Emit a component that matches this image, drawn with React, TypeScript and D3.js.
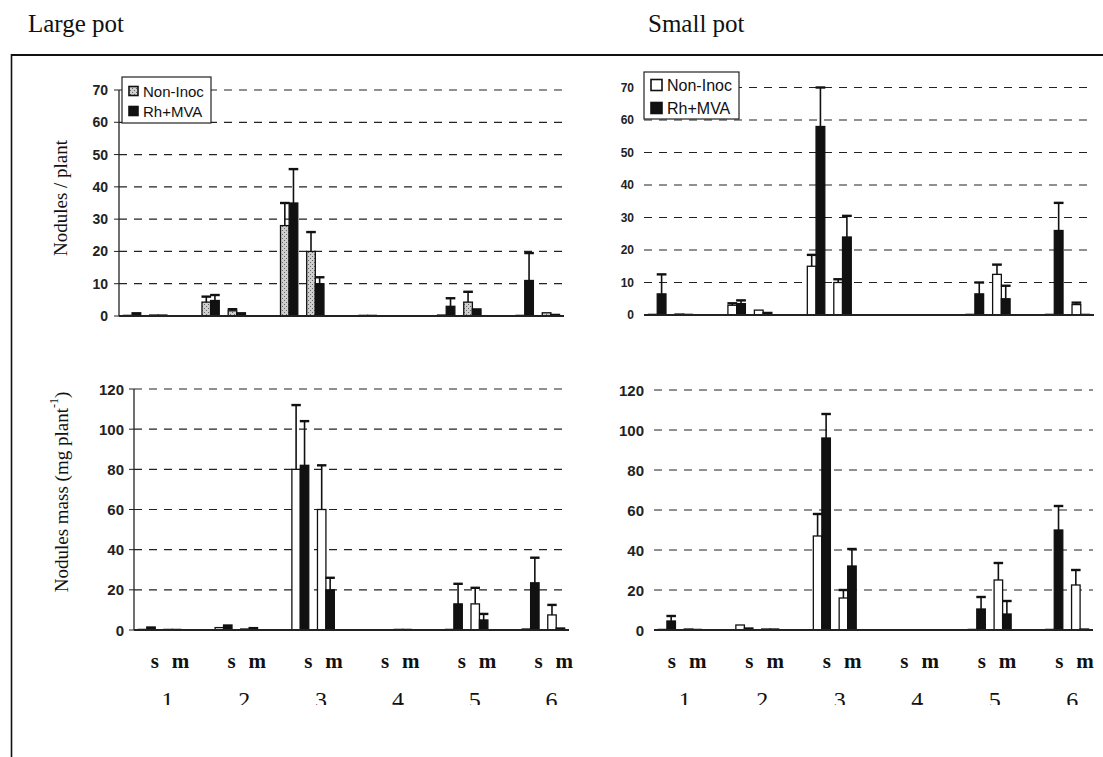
import React from 'react';
import * as d3 from 'd3';

const groups = ['1', '2', '3', '4', '5', '6'];
const subs = ['s', 'm'];
const seriesNames = ['Non-Inoc', 'Rh+MVA'];

// order of values: 1s, 1m, 2s, 2m, 3s, 3m, 4s, 4m, 5s, 5m, 6s, 6m
const largeNodNon = [0.2, 0.3, 4.3, 1.6, 28, 20, 0.2, 0, 0.3, 4.3, 0.2, 1.0];
const largeNodNonErr = [null, null, 1.7, 0.5, 7, 6, null, null, null, 3.2, null, null];
const largeNodRh = [1.0, 0.3, 4.8, 1.0, 35, 10, 0.2, 0, 3, 2.2, 11, 0.5];
const largeNodRhErr = [null, null, 1.7, null, 10.5, 2, null, null, 2.5, null, 8.5, null];

const smallNodNon = [0.2, 0.3, 3, 1.5, 15, 10, 0, 0, 0.2, 12.5, 0.2, 3.2];
const smallNodNonErr = [null, null, 0.6, null, 3.5, 1, null, null, null, 3, null, 0.6];
const smallNodRh = [6.5, 0.2, 3.5, 0.8, 58, 24, 0, 0, 6.5, 5, 26, 0.2];
const smallNodRhErr = [6, null, 1, null, 12, 6.5, null, null, 3.5, 4, 8.5, null];

const largeMassNon = [0.3, 0.3, 1.2, 0.5, 80, 60, 0, 0.3, 0.3, 13, 0.5, 7.5];
const largeMassNonErr = [null, null, null, null, 32, 22, null, null, null, 8, null, 5];
const largeMassRh = [1.5, 0.3, 2.5, 1.2, 82, 20, 0, 0.3, 13, 5, 23.5, 1];
const largeMassRhErr = [null, null, null, null, 22, 6, null, null, 10, 3, 12.5, null];

const smallMassNon = [0.3, 0.5, 2.5, 0.5, 47, 16, 0, 0, 0.3, 25, 0.3, 22.5];
const smallMassNonErr = [null, null, null, null, 11, 4, null, null, null, 8.5, null, 7.5];
const smallMassRh = [4.5, 0.3, 1, 0.5, 96, 32, 0, 0, 10.5, 8, 50, 0.5];
const smallMassRhErr = [2.5, null, null, null, 12, 8.5, null, null, 6, 6.5, 12, null];

const countTicks = [0, 10, 20, 30, 40, 50, 60, 70];
const massTicks = [0, 20, 40, 60, 80, 100, 120];

const titles = ['Large pot', 'Small pot'];
const yTitleTop = 'Nodules / plant';
const yTitleBottom = 'Nodules mass (mg plant';

const SERIF = '"Liberation Serif", "Times New Roman", serif';
const SANS = '"Liberation Sans", Arial, sans-serif';

// 17 slots: s, m, gap for each group, no gap after the last one
const slotKeys = groups.flatMap((g, i) =>
  i < groups.length - 1 ? [g + 's', g + 'm', g + '-'] : [g + 's', g + 'm']
);

type Err = (number | null)[];

interface PanelProps {
  x0: number; x1: number; y0: number; yTop: number; max: number;
  ticks: number[];
  non: number[]; nonErr: Err; rh: number[]; rhErr: Err;
  nonFill: string;
  tickFont: number; labelRight: number; axisLine: boolean;
  legend?: { x: number; y: number; w: number; h: number; font: number; sq: number; rows: number[] };
  xLabelOffset?: number;
}

function Panel(p: PanelProps) {
  const x = d3.scaleBand().domain(slotKeys).range([p.x0, p.x1]);
  const y = d3.scaleLinear().domain([0, p.max]).range([p.y0, p.yTop]);
  const step = x.bandwidth();
  const pairW = step * 0.66;

  const bars: JSX.Element[] = [];
  const errs: JSX.Element[] = [];
  p.non.forEach((_, i) => {
    const key = groups[Math.floor(i / 2)] + subs[i % 2];
    const cx = (x(key) as number) + step / 2;
    const inner = d3.scaleBand().domain(seriesNames).range([cx - pairW / 2, cx + pairW / 2]);
    const w = inner.bandwidth();
    [
      { v: p.non[i], e: p.nonErr[i], s: seriesNames[0], fill: p.nonFill },
      { v: p.rh[i], e: p.rhErr[i], s: seriesNames[1], fill: '#111' },
    ].forEach((b) => {
      if (b.v <= 0) return;
      const bx = inner(b.s) as number;
      bars.push(
        <rect key={`b${i}${b.s}`} x={bx} y={y(b.v)} width={w} height={p.y0 - y(b.v)}
          fill={b.fill} stroke="#111" strokeWidth={1.3} />
      );
      if (b.e != null) {
        const mx = bx + w / 2;
        errs.push(
          <g key={`e${i}${b.s}`} stroke="#111">
            <line x1={mx} x2={mx} y1={y(b.v)} y2={y(b.v + b.e)} strokeWidth={1.6} />
            <line x1={bx - 0.5} x2={bx + w + 0.5} y1={y(b.v + b.e)} y2={y(b.v + b.e)} strokeWidth={2.4} />
          </g>
        );
      }
    });
  });

  return (
    <g>
      {p.ticks.filter((t) => t > 0).map((t) => (
        <line key={'g' + t} x1={p.x0} x2={p.x1} y1={y(t)} y2={y(t)}
          stroke="#222" strokeWidth={1.2} strokeDasharray="8 7" />
      ))}
      {p.ticks.map((t) => (
        <text key={'t' + t} x={p.labelRight} y={y(t)} textAnchor="end" dominantBaseline="central"
          fontFamily={SANS} fontWeight="bold" fontSize={p.tickFont} fill="#222">{t}</text>
      ))}
      {p.axisLine && (
        <g stroke="#222">
          <line x1={p.x0} x2={p.x0} y1={p.y0} y2={p.yTop} strokeWidth={1.3} />
          {p.ticks.map((t) => (
            <line key={'k' + t} x1={p.x0 - 5} x2={p.x0} y1={y(t)} y2={y(t)} strokeWidth={1} />
          ))}
        </g>
      )}
      {bars}
      <line x1={p.x0} x2={p.x1} y1={p.y0} y2={p.y0} stroke="#222" strokeWidth={1.8} />
      {errs}
      {p.legend && (
        <g>
          <rect x={p.legend.x} y={p.legend.y} width={p.legend.w} height={p.legend.h}
            fill="#fff" stroke="#222" strokeWidth={1.2} />
          {seriesNames.map((s, i) => (
            <g key={s}>
              <rect x={p.legend.x + 7} y={p.legend.rows[i] - p.legend.sq / 2} width={p.legend.sq} height={p.legend.sq}
                fill={i === 0 ? p.nonFill : '#111'} stroke="#111" strokeWidth={1.6} />
              <text x={p.legend.x + 12 + p.legend.sq} y={p.legend.rows[i]} dominantBaseline="central"
                fontFamily={SANS} fontSize={p.legend.font} fill="#111">{s}</text>
            </g>
          ))}
        </g>
      )}
      {p.xLabelOffset != null && (
        <g>
          {groups.map((g) => subs.map((s) => (
            <text key={g + s} x={(x(g + s) as number) + step / 2 + (p.xLabelOffset as number)} y={668}
              textAnchor="middle" fontFamily={SERIF} fontWeight="bold" fontSize={21} fill="#111">{s}</text>
          )))}
          <g clipPath="url(#numClip)">
            {groups.map((g) => (
              <text key={'n' + g} x={(x(g + 's') as number) + step + (p.xLabelOffset as number)} y={708}
                textAnchor="middle" fontFamily={SERIF} fontSize={24} fill="#111">{g}</text>
            ))}
          </g>
        </g>
      )}
    </g>
  );
}

export default function App() {
  return (
    <div style={{ position: 'absolute', left: 0, top: 0 }}>
      <svg width={1103} height={757} viewBox="0 0 1103 757" style={{ display: 'block', background: '#fff' }}>
        <defs>
          <pattern id="stip" width="4" height="4" patternUnits="userSpaceOnUse">
            <rect width="4" height="4" fill="#cfcfcf" />
            <rect x="0" y="0" width="1" height="1" fill="#666" />
            <rect x="2" y="2" width="1" height="1" fill="#666" />
          </pattern>
          <clipPath id="numClip">
            <rect x={0} y={680} width={1103} height={25} />
          </clipPath>
        </defs>

        <text x={28} y={32} fontFamily={SERIF} fontSize={25} fill="#111">{titles[0]}</text>
        <text x={648} y={32} fontFamily={SERIF} fontSize={25} fill="#111">{titles[1]}</text>

        <line x1={11} x2={1103} y1={55} y2={55} stroke="#111" strokeWidth={2} />
        <line x1={11.5} x2={11.5} y1={54} y2={757} stroke="#111" strokeWidth={1.6} />

        <text transform="translate(60,198) rotate(-90)" textAnchor="middle" dominantBaseline="central"
          fontFamily={SERIF} fontSize={19} fill="#111">{yTitleTop}</text>
        <text transform="translate(61,492) rotate(-90)" textAnchor="middle" dominantBaseline="central"
          fontFamily={SERIF} fontSize={19} fill="#111">
          {yTitleBottom}<tspan fontSize={12} dy={-7}>-1</tspan><tspan dy={7}>)</tspan>
        </text>

        <Panel x0={119} x1={564} y0={316} yTop={90} max={70} ticks={countTicks}
          non={largeNodNon} nonErr={largeNodNonErr} rh={largeNodRh} rhErr={largeNodRhErr}
          nonFill="url(#stip)" tickFont={14} labelRight={108} axisLine
          legend={{ x: 122, y: 77, w: 89, h: 46, font: 15, sq: 9, rows: [91, 111] }} />

        <Panel x0={644} x1={1094} y0={315} yTop={87.5} max={70} ticks={countTicks}
          non={smallNodNon} nonErr={smallNodNonErr} rh={smallNodRh} rhErr={smallNodRhErr}
          nonFill="#fff" tickFont={12} labelRight={634} axisLine={false}
          legend={{ x: 644, y: 72, w: 95, h: 47, font: 16, sq: 11, rows: [85, 108] }} />

        <Panel x0={134} x1={569} y0={630} yTop={389} max={120} ticks={massTicks}
          non={largeMassNon} nonErr={largeMassNonErr} rh={largeMassRh} rhErr={largeMassRhErr}
          nonFill="#fff" tickFont={15} labelRight={124} axisLine xLabelOffset={8} />

        <Panel x0={654} x1={1093} y0={630} yTop={390} max={120} ticks={massTicks}
          non={smallMassNon} nonErr={smallMassNonErr} rh={smallMassRh} rhErr={smallMassRhErr}
          nonFill="#fff" tickFont={15} labelRight={644} axisLine={false} xLabelOffset={5} />
      </svg>
    </div>
  );
}
